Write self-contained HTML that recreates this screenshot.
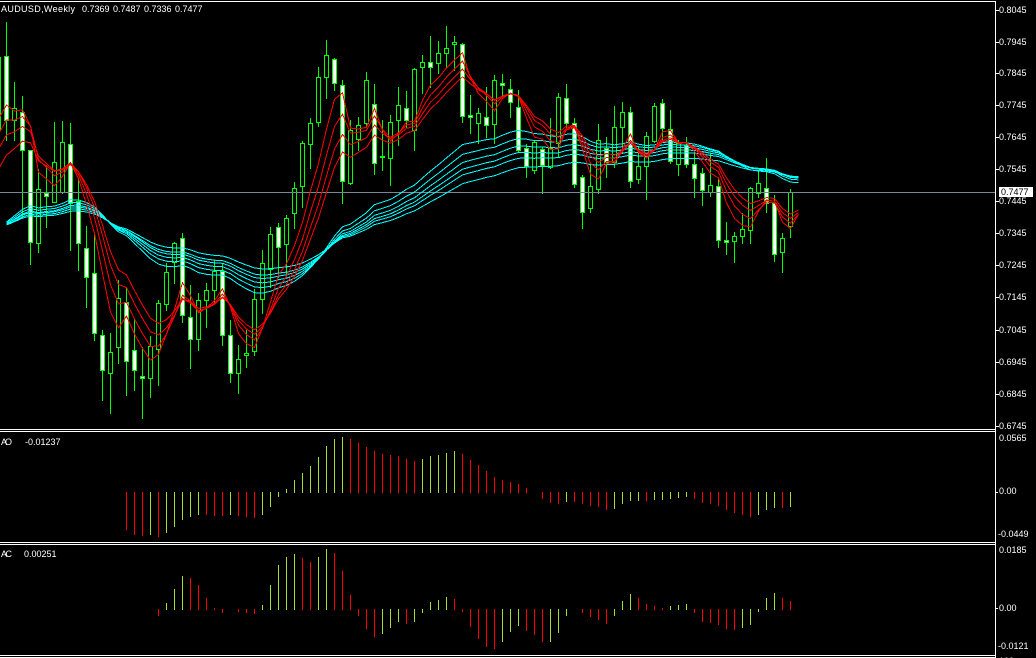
<!DOCTYPE html>
<html><head><meta charset="utf-8">
<style>
html,body{margin:0;padding:0;background:#000;}
body{width:1036px;height:658px;overflow:hidden;}
svg{display:block;}
text{font-family:"Liberation Sans",sans-serif;font-size:9px;fill:#fff;}
</style></head><body>
<svg id="s" width="1036" height="658" viewBox="0 0 1036 658" xmlns="http://www.w3.org/2000/svg">
<rect width="1036" height="658" fill="#000"/>
<g id="g" shape-rendering="crispEdges"></g>
<rect x="0" y="192" width="995" height="1" fill="#778899" shape-rendering="crispEdges"/>
<g id="m" shape-rendering="crispEdges" fill="none" stroke-width="1"></g>
<g id="b" shape-rendering="crispEdges"></g>
<g fill="#fff" shape-rendering="crispEdges">
<rect x="0" y="1" width="996" height="1"/>
<rect x="995" y="1" width="1" height="657"/>
<rect x="0" y="429" width="996" height="1"/>
<rect x="0" y="431" width="996" height="1"/>
<rect x="0" y="542" width="996" height="1"/>
<rect x="0" y="544" width="996" height="1"/>
<rect x="0" y="655" width="996" height="1"/>
<rect x="0" y="657" width="996" height="1"/>
<rect x="996" y="10" width="3" height="1"/>
<rect x="996" y="42" width="3" height="1"/>
<rect x="996" y="73" width="3" height="1"/>
<rect x="996" y="105" width="3" height="1"/>
<rect x="996" y="137" width="3" height="1"/>
<rect x="996" y="169" width="3" height="1"/>
<rect x="996" y="201" width="3" height="1"/>
<rect x="996" y="233" width="3" height="1"/>
<rect x="996" y="265" width="3" height="1"/>
<rect x="996" y="297" width="3" height="1"/>
<rect x="996" y="330" width="3" height="1"/>
<rect x="996" y="362" width="3" height="1"/>
<rect x="996" y="394" width="3" height="1"/>
<rect x="996" y="426" width="3" height="1"/>
<rect x="996" y="492" width="2" height="1"/>
<rect x="996" y="608" width="2" height="1"/>
<rect x="999" y="187" width="34" height="10"/>
</g>
<text x="1" y="12" textLength="74">AUDUSD,Weekly</text>
<text x="82" y="12">0.7369</text>
<text x="113" y="12">0.7487</text>
<text x="144" y="12">0.7336</text>
<text x="175" y="12">0.7477</text>
<text x="1" y="445" textLength="11">AO</text>
<text x="25" y="445">-0.01237</text>
<text x="1" y="557" textLength="11">AC</text>
<text x="24" y="557">0.00251</text>
<text x="999" y="13">0.8045</text>
<text x="999" y="45">0.7945</text>
<text x="999" y="76">0.7845</text>
<text x="999" y="108">0.7745</text>
<text x="999" y="140">0.7645</text>
<text x="999" y="172">0.7545</text>
<text x="999" y="204">0.7445</text>
<text x="999" y="236">0.7345</text>
<text x="999" y="268">0.7245</text>
<text x="999" y="300">0.7145</text>
<text x="999" y="333">0.7045</text>
<text x="999" y="365">0.6945</text>
<text x="999" y="397">0.6845</text>
<text x="999" y="429">0.6745</text>
<text x="1001" y="195" style="fill:#000">0.7477</text>
<text x="999" y="441">0.0565</text>
<text x="999" y="494">0.00</text>
<text x="998" y="537">-0.0449</text>
<text x="999" y="553">0.0185</text>
<text x="999" y="611">0.00</text>
<text x="998" y="649">-0.0121</text>
<text x="999" y="664">100</text>
</svg>
<script>
(function(){
var NS="http://www.w3.org/2000/svg";
var g=document.getElementById('g'),m=document.getElementById('m'),bb=document.getElementById('b');
function R(p,x,y,w,h,f){var r=document.createElementNS(NS,'rect');r.setAttribute('x',x);r.setAttribute('y',y);r.setAttribute('width',w);r.setAttribute('height',h);r.setAttribute('fill',f);p.appendChild(r);}
var D=[
[56,120,22,140],[120,108,82,140],[112,150,96,217],[150,242,150,264],[243,189,169,252],
[193,196,165,227],[202,162,122,202],[192,142,121,193],[144,203,123,250],[201,243,179,270],
[248,277,226,307],[273,333,235,340],[335,370,330,400],[373,352,333,413],[347,298,280,363],
[302,361,288,395],[350,370,319,390],[376,378,347,418],[378,346,336,397],[349,303,300,385],
[304,272,263,310],[262,243,242,283],[238,315,233,322],[317,339,285,368],[339,300,293,350],
[300,290,283,327],[290,271,260,303],[271,335,263,345],[335,373,320,382],[373,359,345,393],
[355,353,330,367],[351,299,289,355],[299,263,250,313],[269,234,227,287],[227,247,223,277],
[244,218,215,273],[213,188,182,228],[186,143,141,207],[144,123,118,168],[122,77,67,126],
[77,55,40,98],[59,83,58,90],[85,181,80,203],[183,130,120,184],[139,125,117,150],
[123,80,72,127],[104,163,84,174],[156,157,120,170],[158,122,115,185],[120,105,87,145],
[108,120,91,127],[130,69,68,150],[67,62,55,93],[62,67,36,87],[63,53,41,73],
[53,48,26,67],[44,42,36,70],[44,116,43,122],[115,117,95,133],[123,113,108,143],
[117,125,87,137],[124,80,75,143],[83,85,74,97],[89,102,79,117],[107,150,90,152],
[148,166,144,177],[170,142,140,173],[149,165,147,193],[167,148,118,168],[143,97,93,157],
[98,123,84,127],[123,184,118,187],[177,212,175,228],[208,186,163,212],[189,140,124,193],
[148,162,137,177],[162,127,106,167],[127,112,102,152],[112,181,107,187],[179,166,147,183],
[166,136,132,199],[141,106,103,142],[103,128,99,140],[129,161,110,163],[164,143,140,175],
[145,164,137,167],[164,178,152,197],[173,190,168,205],[192,185,153,196],[186,240,178,247],
[240,242,222,254],[241,236,232,262],[236,229,213,243],[230,188,187,243],[193,183,170,197],
[188,203,158,212],[203,254,195,261],[252,238,233,272],[226,192,189,237]
];
R(g,0,57,1,74,'#0f0');
D.forEach(function(d,i){
  var o=d[0],c=d[1],h=d[2],l=d[3],cx=6+8*i;
  R(g,cx,h,1,l-h+1,'#0f0');
  var t=Math.min(o,c),b=Math.max(o,c);
  R(g,cx-2,t,5,b-t+1,'#0f0');
  if(b-t>=2)R(g,cx-1,t+1,3,b-t-1,c>o?'#fff':'#000');
});
function ema(p,init,col,pre){
  var a=2/(p+1),e=init,pts=[];
  if(pre!==undefined)pts.push('-1.5,'+pre);
  pts.push('6.5,'+init);
  for(var k=0;k<D.length;k++){e=e+a*(D[k][1]-e);pts.push((6.5+8*(k+1))+','+e.toFixed(1));}
  var pl=document.createElementNS(NS,'polyline');
  pl.setAttribute('points',pts.join(' '));pl.setAttribute('stroke',col);m.appendChild(pl);
}
[[32,222],[37,223],[42,224],[47,224],[52,225],[62,225]].forEach(function(q){ema(q[0],q[1],'#00ffff');});
[[4,105],[6,120],[8,135],[10,155]].forEach(function(q){ema(q[0],q[1],'#ff0000',q[1]+14);});
var GC='#a4e02c',RC='#ff0000';
var AOv=[529,534,535,534,536,532,526,519,516,514,
514,515,515,514,515,516,517,514,506,496,
489,480,473,466,457,446,439,437,439,443,
447,451,454,455,456,459,461,459,456,455,
453,451,454,460,465,471,477,480,482,484,
488,492,498,502,503,501,501,503,505,506,
509,508,503,500,500,500,499,499,498,497,
496,498,502,503,505,509,512,514,516,514,
509,507,507,506];
var AOc="RRRGRGGGGG"+"RRRGRRRGGG"+"GGGGGGGGRR"+"RRRRRRRGGG"+"GGRRRRRRRR"+"RRRRRGRRRR"+"RGGGGRGGGG"+"GRRRRRRRRG"+"GGRG";
AOv.forEach(function(v,k){var i=15+k,z=492;if(v===z)return;R(bb,6+8*i,Math.min(v,z),1,Math.abs(v-z)+1,AOc[k]==='G'?GC:RC);});
var ACv=[615,603,589,576,578,585,598,608,612,609,
611,612,613,605,585,565,557,554,558,562,
557,549,553,571,595,615,628,636,633,627,
621,623,621,612,602,600,597,599,611,626,
638,646,648,641,631,625,630,634,641,641,
632,615,609,612,616,619,623,615,601,594,
598,604,606,608,606,605,604,612,621,622,
624,628,629,627,624,611,598,593,598,601];
var ACc="RGGGRRRRRR"+"RRRGGGGGRR"+"GGRRRRRRGG"+"GRGGGGGRRR"+"RRRGGGRRRG"+"GGGRRRRGGG"+"RRRRGGGRRR"+"RRRGGGGGRR";
ACv.forEach(function(v,k){var i=19+k,z=609;if(v===z)return;R(bb,6+8*i,Math.min(v,z),1,Math.abs(v-z)+1,ACc[k]==='G'?GC:RC);});
})();
</script>
</body></html>
